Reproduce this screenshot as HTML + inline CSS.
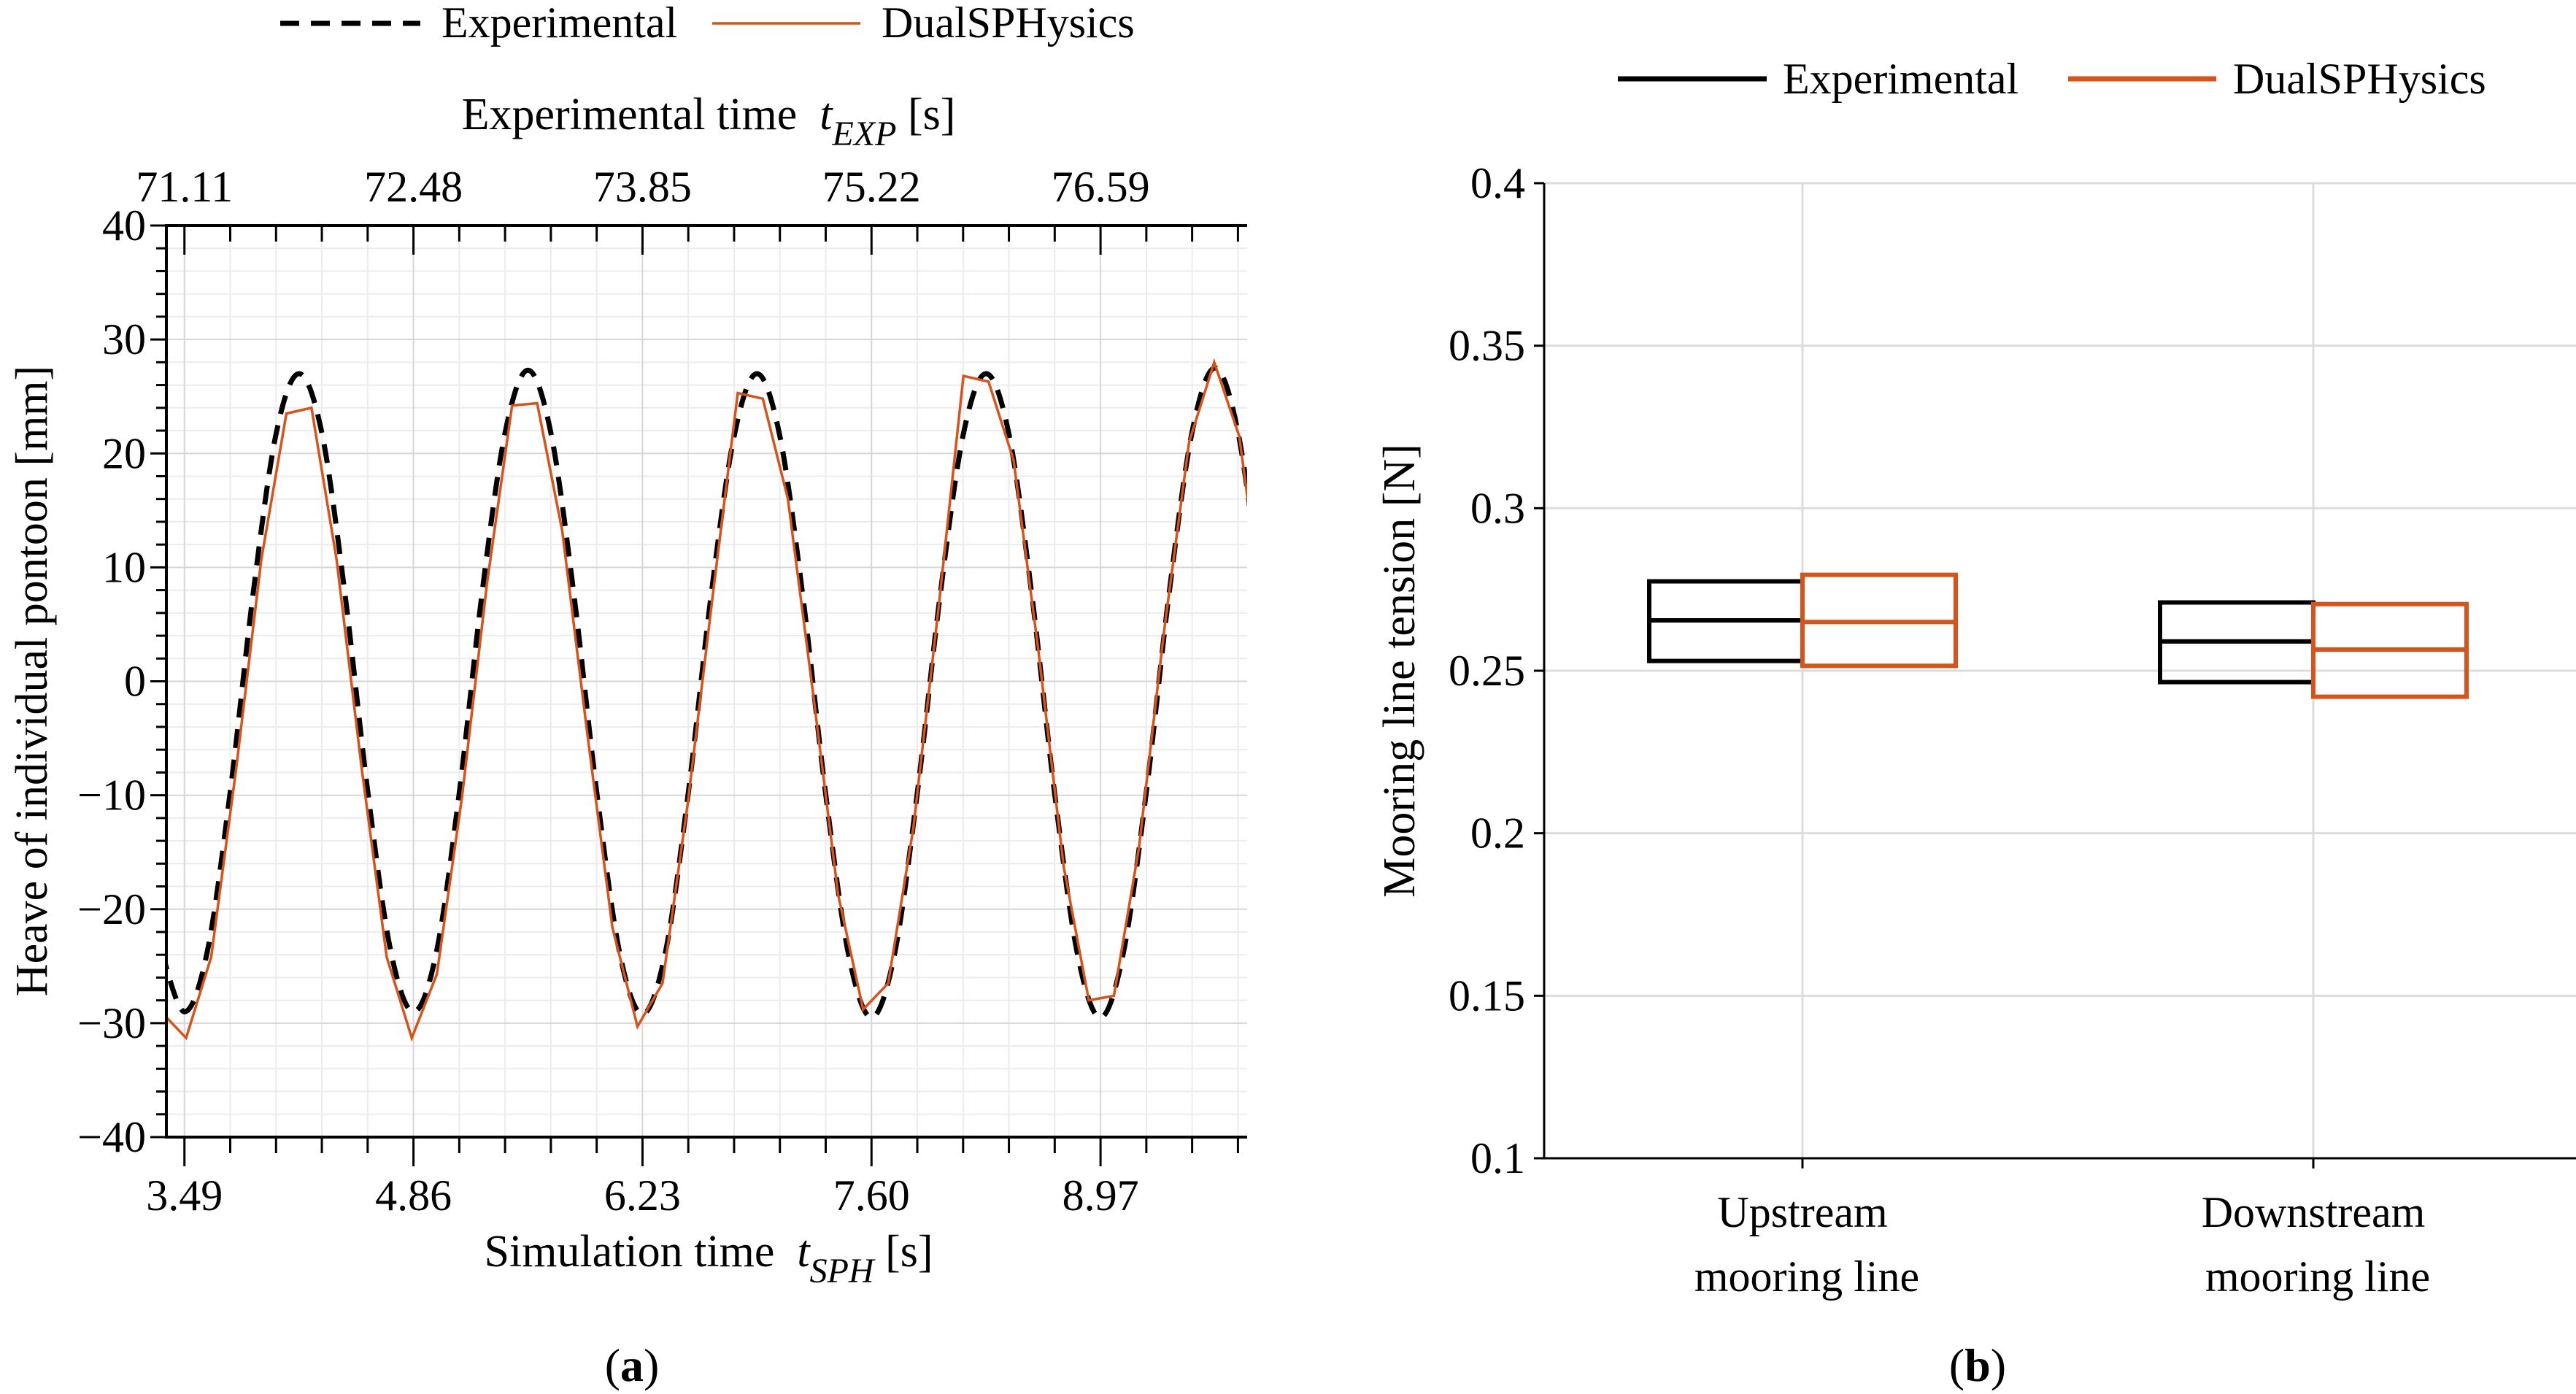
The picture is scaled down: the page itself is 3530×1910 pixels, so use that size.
<!DOCTYPE html>
<html><head><meta charset="utf-8">
<style>
html,body{margin:0;padding:0;background:#fff;font-family:"Liberation Serif","DejaVu Serif",serif;}
svg{display:block;}
svg text{font-family:"Liberation Serif","DejaVu Serif",serif;}
</style></head>
<body>
<svg id="fig" width="3530" height="1910" viewBox="0 0 3530 1910" xmlns="http://www.w3.org/2000/svg" font-family="Liberation Serif, DejaVu Serif, serif">
<g id="left"></g>
<g id="right"></g>
</svg>
<script>
// ---------- Chart (a) data ----------
const expTimes0 = 3.353, expStep = 0.137;
const expHeave = [-23.7,-29,-23.7,-9.7,7.7,21.7,27,21.8,7.8,-9.6,-23.6,-29,-23.8,-9.8,7.8,21.8,27.3,21.8,7.7,-9.7,-23.8,-29.2,-23.8,-9.8,7.6,21.5,27,21.5,7.5,-9.9,-24,-29.5,-24,-9.8,7.6,21.6,27,21.7,7.6,-9.9,-24,-29.5,-23.8,-9.7,7.8,21.9,27.5,21.9,7.9];
const sphTimes0 = 3.35, sphStep = 0.15;
const sphHeave = [-29,-31.3,-24.2,-7.6,10.7,23.5,24,10.7,-7.6,-24.2,-31.3,-25.7,-10.2,8.6,24.2,24.4,13.2,-4.6,-21.6,-30.3,-26.5,-10.8,7.5,25.3,24.8,16,-1,-18.7,-28.8,-26.5,-12.9,6.3,26.8,26.3,19.4,2.5,-16.3,-28,-27.6,-14.6,4.4,21,28,21.5,5];
const simTicks = ["3.49","4.86","6.23","7.60","8.97"];
const expTicks = ["71.11","72.48","73.85","75.22","76.59"];
const yTicksA = [-40,-30,-20,-10,0,10,20,30,40];
// ---------- Chart (b) data ----------
const categories = ["Upstream|mooring line","Downstream|mooring line"];
const expBox = [[0.253,0.2655,0.2775],[0.2465,0.259,0.271]];
const sphBox = [[0.2515,0.265,0.2795],[0.242,0.2565,0.2705]];
const yTicksB = ["0.1","0.15","0.2","0.25","0.3","0.35","0.4"];

const NS="http://www.w3.org/2000/svg";
const FF="Liberation Serif, DejaVu Serif, serif";
function mk(parent,tag,attrs,text){const e=document.createElementNS(NS,tag);for(const k in attrs)e.setAttribute(k,attrs[k]);if(tag==='text')e.setAttribute('font-family',FF);if(text!==undefined)e.textContent=text;parent.appendChild(e);return e;}
const ORANGE="#d95319";
const FS=60, FT=62;

// ===== Chart A =====
(function(){
const g=document.getElementById('left');
const X0=228,X1=1709,Y0=309,Y1=1558;
const tMin=3.382,tMax=9.847;
const sx=t=>X0+(t-tMin)/(tMax-tMin)*(X1-X0);
const sy=v=>Y1-(v+40)/80*(Y1-Y0);
mk(g,'defs',{}).innerHTML='<clipPath id="clipA"><rect x="'+X0+'" y="'+Y0+'" width="'+(X1-X0)+'" height="'+(Y1-Y0)+'"/></clipPath>';
for(let v=-40;v<=40;v+=2){if(v%10===0)continue;const l=mk(g,'line',{x1:X0,x2:X1,y1:sy(v),y2:sy(v),stroke:'#ececec','stroke-width':2});}
for(let i=-1;i<30;i++){if(i%5===0)continue;const t=3.49+i*0.274;if(t<tMin||t>tMax)continue;const l=mk(g,'line',{x1:sx(t),x2:sx(t),y1:Y0,y2:Y1,stroke:'#ececec','stroke-width':2});}
yTicksA.forEach(v=>{const l=mk(g,'line',{x1:X0,x2:X1,y1:sy(v),y2:sy(v),stroke:'#d6d6d6','stroke-width':2});});
simTicks.forEach(s=>{const x=sx(parseFloat(s));const l=mk(g,'line',{x1:x,x2:x,y1:Y0,y2:Y1,stroke:'#d6d6d6','stroke-width':2});});
function smooth(pts){let d='M'+pts[0][0]+','+pts[0][1];for(let i=0;i<pts.length-1;i++){const p0=pts[Math.max(0,i-1)],p1=pts[i],p2=pts[i+1],p3=pts[Math.min(pts.length-1,i+2)];d+=' C'+(p1[0]+(p2[0]-p0[0])/6)+','+(p1[1]+(p2[1]-p0[1])/6)+' '+(p2[0]-(p3[0]-p1[0])/6)+','+(p2[1]-(p3[1]-p1[1])/6)+' '+p2[0]+','+p2[1];}return d;}
const ep=expHeave.map((v,i)=>[sx(expTimes0+i*expStep),sy(v)]);
const e=mk(g,'path',{d:smooth(ep),fill:'none',stroke:'#000','stroke-width':7,'stroke-dasharray':'26 16','clip-path':'url(#clipA)'});

const sp=sphHeave.map((v,i)=>sx(sphTimes0+i*sphStep)+','+sy(v)).join(' ');
const s=mk(g,'polyline',{points:sp,fill:'none',stroke:ORANGE,'stroke-width':3.5,'clip-path':'url(#clipA)'});

const ax=mk(g,'path',{d:`M${X1},${Y0} H${X0} V${Y1} H${X1}`,fill:'none',stroke:'#000','stroke-width':4});

for(let v=-40;v<=40;v+=2){const L=v%10===0?22:14;mk(g,'line',{x1:X0-L,x2:X0,y1:sy(v),y2:sy(v),stroke:'#000','stroke-width':3});}
for(let i=-1;i<30;i++){const t=3.49+i*0.274;if(t<tMin||t>tMax)continue;const maj=i%5===0;const x=sx(t);
 mk(g,'line',{x1:x,x2:x,y1:Y1,y2:Y1+(maj?40:22),stroke:'#000','stroke-width':3});
 mk(g,'line',{x1:x,x2:x,y1:Y0,y2:Y0+(maj?40:22),stroke:'#000','stroke-width':3});}
yTicksA.forEach(v=>{const t=mk(g,'text',{x:200,y:sy(v)+20,'text-anchor':'end','font-size':FS},v<0?'\u2212'+(-v):String(v));});
simTicks.forEach(s=>{const t=mk(g,'text',{x:sx(parseFloat(s)),y:1658,'text-anchor':'middle','font-size':FS},s);});
expTicks.forEach((s,i)=>{const t=mk(g,'text',{x:sx(parseFloat(simTicks[i])),y:276,'text-anchor':'middle','font-size':FS},s);});
let t=mk(g,'text',{x:971,y:1735,'text-anchor':'middle','font-size':FT});t.innerHTML='Simulation time&#160; <tspan font-style="italic">t</tspan><tspan font-style="italic" font-size="48" dy="22">SPH</tspan><tspan dy="-22"> [s]</tspan>';

t=mk(g,'text',{x:971,y:177,'text-anchor':'middle','font-size':FT});t.innerHTML='Experimental time&#160; <tspan font-style="italic">t</tspan><tspan font-style="italic" font-size="48" dy="22">EXP</tspan><tspan dy="-22"> [s]</tspan>';

t=mk(g,'text',{x:0,y:0,'text-anchor':'middle','font-size':FT,transform:'translate(64,933) rotate(-90)'},'Heave of individual pontoon [mm]');

let l=mk(g,'line',{x1:384,x2:576,y1:32,y2:32,stroke:'#000','stroke-width':7,'stroke-dasharray':'26 16'});
t=mk(g,'text',{x:605,y:51,'font-size':FS},'Experimental');
l=mk(g,'line',{x1:976,x2:1179,y1:32,y2:32,stroke:ORANGE,'stroke-width':3.5});
t=mk(g,'text',{x:1208,y:51,'font-size':FS},'DualSPHysics');
t=mk(g,'text',{x:866,y:1892,'text-anchor':'middle','font-size':64});t.innerHTML='(<tspan font-weight="bold">a</tspan>)';
})();

// ===== Chart B =====
(function(){
const g=document.getElementById('right');
const X0=2116,X1=3530,Y0=251,Y1=1587;
const sy=v=>Y1-(v-0.1)/0.3*(Y1-Y0);
const cx=[2470,3170];const hw=210;
yTicksB.forEach(s=>{const y=sy(parseFloat(s));const l=mk(g,'line',{x1:X0,x2:X1,y1:y,y2:y,stroke:'#dcdcdc','stroke-width':3});
 mk(g,'line',{x1:X0-14,x2:X0,y1:y,y2:y,stroke:'#000','stroke-width':3});
 const t=mk(g,'text',{x:2090,y:y+20,'text-anchor':'end','font-size':FS},s);});
cx.forEach(x=>{const l=mk(g,'line',{x1:x,x2:x,y1:Y0,y2:Y1,stroke:'#dcdcdc','stroke-width':3});
 mk(g,'line',{x1:x,x2:x,y1:Y1,y2:Y1+14,stroke:'#000','stroke-width':3});});
function box(x0,b,col,name){const r=mk(g,'rect',{x:x0,y:sy(b[2]),width:hw,height:sy(b[0])-sy(b[2]),fill:'none',stroke:col,'stroke-width':6});
 const m=mk(g,'line',{x1:x0,x2:x0+hw,y1:sy(b[1]),y2:sy(b[1]),stroke:col,'stroke-width':6});}
categories.forEach((c,i)=>{box(cx[i]-hw,expBox[i],'#000','box-experimental-'+i);box(cx[i],sphBox[i],ORANGE,'box-dualsphysics-'+i);
 const p=c.split('|');let t=mk(g,'text',{x:cx[i],y:1681,'text-anchor':'middle','font-size':FS},p[0]);
 t=mk(g,'text',{x:cx[i]+6,y:1769,'text-anchor':'middle','font-size':FS},p[1]);});
const ax=mk(g,'path',{d:`M${X0},${Y0} V${Y1} H${X1}`,fill:'none',stroke:'#000','stroke-width':3});
let t=mk(g,'text',{x:0,y:0,'text-anchor':'middle','font-size':FT,transform:'translate(1938,919) rotate(-90)'},'Mooring line tension [N]');
let l=mk(g,'line',{x1:2217,x2:2421,y1:108,y2:108,stroke:'#000','stroke-width':7});
t=mk(g,'text',{x:2443,y:128,'font-size':FS},'Experimental');
l=mk(g,'line',{x1:2834,x2:3037,y1:108,y2:108,stroke:ORANGE,'stroke-width':7});
t=mk(g,'text',{x:3060,y:128,'font-size':FS},'DualSPHysics');
t=mk(g,'text',{x:2710,y:1892,'text-anchor':'middle','font-size':64});t.innerHTML='(<tspan font-weight="bold">b</tspan>)';
})();
</script>
</body></html>
